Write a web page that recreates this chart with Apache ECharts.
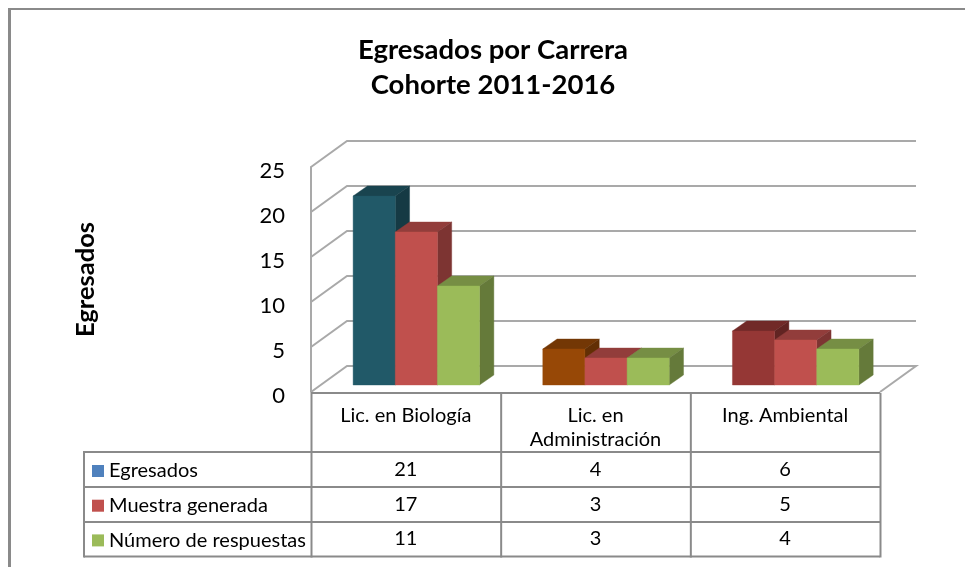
<!DOCTYPE html>
<html><head><meta charset="utf-8">
<style>html,body{margin:0;padding:0;background:#fff}#c{width:965px;height:567px}</style>
<script src="https://cdn.jsdelivr.net/npm/echarts@6/dist/echarts.min.js"></script>
</head><body><div id="c"></div>
<script>
const categories = ['Lic. en Biología', 'Lic. en\nAdministración', 'Ing. Ambiental'];
const seriesNames = ['Egresados', 'Muestra generada', 'Número de respuestas'];
const egresados = [21, 4, 6];
const muestra = [17, 3, 5];
const respuestas = [11, 3, 4];
const yTicks = [0, 5, 10, 15, 20, 25];
const legendColors = ['#4F81BD', '#C0504D', '#9BBB59'];
const egresadosPointColors = ['#215968', '#974806', '#953735'];

const FONT = 'Lato, Carlito, sans-serif';
const TABLE_FONT = 20;
const GRID = {left: 311, top: 167, width: 569, height: 225};
const WALL_DX = 36, WALL_DY = -26;      // depth of the chart box
const INSET_DX = 10.5, INSET_DY = -7;   // bars stand inside the box
const DEPTH_DX = 14.3, DEPTH_DY = -10;  // depth of one bar
const BAR_RATIO = 0.2222;
const ROW_Y = [470, 504.5, 539];
const ROW_LINES = [452, 487, 522, 556.5];
const TABLE_LEFT = 84, TABLE_TOP = 393;
const GREY = '#8A8A8A', WALL = '#A9A9A9';

function shade(hex, k) {
  const n = parseInt(hex.slice(1), 16);
  const c = [n >> 16, (n >> 8) & 255, n & 255].map(v => Math.round(v * k));
  return 'rgb(' + c.join(',') + ')';
}

function barSeries(name, values, idx, pointColors) {
  return {
    type: 'custom', name, z: 3,
    coordinateSystem: 'cartesian2d',
    itemStyle: {color: legendColors[idx]},
    encode: {x: 0, y: 1},
    data: values.map((v, i) => [i, v]),
    renderItem(params, api) {
      const cat = api.value(0), val = api.value(1);
      const base = api.coord([cat, 0]), top = api.coord([cat, val]);
      const w = api.size([1, 0])[0] * BAR_RATIO;
      const x0 = base[0] + INSET_DX - 1.5 * w + idx * w, x1 = x0 + w;
      const yb = base[1] + INSET_DY, yt = top[1] + INSET_DY;
      const col = pointColors ? pointColors[cat] : legendColors[idx];
      const poly = (pts, fill) => ({type: 'polygon', shape: {points: pts}, style: {fill, stroke: fill, lineWidth: 0.4}});
      return {type: 'group', children: [
        poly([[x0, yt], [x1, yt], [x1 + DEPTH_DX, yt + DEPTH_DY], [x0 + DEPTH_DX, yt + DEPTH_DY]], shade(col, 0.76)),
        poly([[x1, yt], [x1 + DEPTH_DX, yt + DEPTH_DY], [x1 + DEPTH_DX, yb + DEPTH_DY], [x1, yb]], shade(col, 0.65)),
        poly([[x0, yt], [x1, yt], [x1, yb], [x0, yb]], col),
        {type: 'text', style: {text: String(val), x: base[0], y: ROW_Y[idx], align: 'center', verticalAlign: 'middle',
          fill: '#000', font: TABLE_FONT + 'px ' + FONT}}
      ]};
    }
  };
}

const wallSeries = {
  type: 'custom', name: 'paredes', silent: true, z: 1,
  coordinateSystem: 'cartesian2d',
  encode: {y: 0},
  data: yTicks.map(v => [v]),
  renderItem(params, api) {
    const v = api.value(0);
    const a = api.coord([0, v]);
    const left = GRID.left, right = GRID.left + GRID.width;
    const pts = [[left, a[1]], [left + WALL_DX, a[1] + WALL_DY], [right + WALL_DX, a[1] + WALL_DY]];
    if (v === 0) pts.push([right, a[1]]);
    return {type: 'polyline', shape: {points: pts}, style: {fill: null, stroke: WALL, lineWidth: 2}};
  }
};

const hLine = (x1, y1, x2, y2, lineWidth, stroke) => ({type: 'line', silent: true, z: 2,
  shape: {x1, y1, x2, y2}, style: {stroke: stroke || GREY, lineWidth: lineWidth || 2}});
const colX = [0, 1, 2, 3].map(i => GRID.left + i * GRID.width / categories.length);
const graphics = [
  hLine(9.5, 9, 965, 9, 2), hLine(9.5, 8, 9.5, 567, 3),
  hLine(GRID.left, TABLE_TOP, colX[3], TABLE_TOP, 2)
];
ROW_LINES.forEach(y => graphics.push(hLine(TABLE_LEFT, y, colX[3], y, 2)));
graphics.push(hLine(TABLE_LEFT, ROW_LINES[0] - 1, TABLE_LEFT, ROW_LINES[3] + 1, 2));
colX.forEach(x => graphics.push(hLine(x + 0.5, TABLE_TOP, x + 0.5, ROW_LINES[3] + 1, 2)));

const chart = echarts.init(document.getElementById('c'), null, {renderer: 'canvas'});
chart.setOption({
  animation: false,
  backgroundColor: '#fff',
  title: {
    text: 'Egresados por Carrera\nCohorte 2011-2016',
    left: 488, top: 28, textAlign: 'center',
    textStyle: {fontFamily: FONT, fontWeight: 'bold', fontSize: 27.5, lineHeight: 35, color: '#000'}
  },
  legend: {
    left: 92, top: 461, orient: 'vertical', icon: 'rect',
    itemWidth: 12, itemHeight: 12, itemGap: 14.7, padding: 0,
    data: seriesNames,
    textStyle: {fontFamily: FONT, fontSize: TABLE_FONT, color: '#000'},
    selectedMode: false
  },
  grid: GRID,
  xAxis: {
    type: 'category', data: categories,
    axisLine: {show: false}, axisTick: {show: false},
    axisLabel: {interval: 0, margin: 12, fontFamily: FONT, fontSize: TABLE_FONT, lineHeight: 24, color: '#000', verticalAlign: 'top'}
  },
  yAxis: {
    type: 'value', min: 0, max: 25, interval: 5,
    name: 'Egresados', nameLocation: 'middle', nameGap: 212, nameRotate: 90,
    nameTextStyle: {fontFamily: FONT, fontWeight: 'bold', fontSize: 25.5, color: '#000'},
    axisLine: {show: true, lineStyle: {color: WALL, width: 2}},
    axisTick: {show: false}, splitLine: {show: false},
    axisLabel: {margin: 26, fontFamily: FONT, fontSize: 22, color: '#000', verticalAlign: 'top', lineHeight: 8}
  },
  graphic: graphics,
  series: [
    wallSeries,
    barSeries(seriesNames[0], egresados, 0, egresadosPointColors),
    barSeries(seriesNames[1], muestra, 1),
    barSeries(seriesNames[2], respuestas, 2)
  ]
});
</script></body></html>
